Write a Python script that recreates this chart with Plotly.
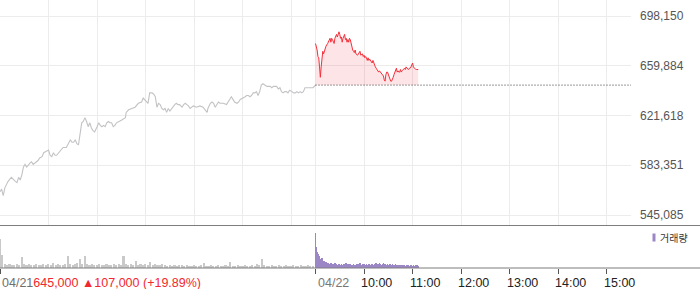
import plotly.graph_objects as go

# ---------------- data ----------------
prev_close = 645000          # 04/21 close (baseline for 04/22)
day1_label = "04/21"
day1_change_text = "645,000 ▲107,000 (+19.89%)"

# 04/21 intraday price (minutes after 09:00)
day1_min = [0, 2, 4, 6, 10, 14, 19, 21, 23, 25,
            27, 29, 31, 33, 37, 39, 41, 43, 45, 47,
            49, 52, 54, 58, 60, 62, 64, 66, 68, 70,
            74, 78, 82, 84, 87, 89, 91, 93, 95, 97,
            99, 101, 103, 105, 107, 109, 111, 113, 115, 117,
            120, 122, 124, 126, 128, 130, 132, 134, 136, 138,
            140, 142, 144, 148, 150, 155, 156, 159, 163, 167,
            171, 175, 177, 181, 183, 185, 188, 190, 192, 194,
            196, 198, 200, 202, 204, 206, 208, 210, 212, 214,
            216, 218, 220, 222, 225, 227, 229, 231, 233, 235,
            237, 239, 243, 247, 251, 253, 256, 257, 260, 262,
            264, 266, 268, 270, 272, 274, 276, 280, 282, 284,
            286, 288, 290, 293, 295, 297, 301, 303, 305, 307,
            309, 311, 313, 315, 317, 319, 321, 323, 325, 328,
            330, 332, 334, 336, 338, 340, 342, 344, 346, 348,
            350, 352, 354, 356, 358, 361, 363, 365, 367, 369,
            371, 373, 375, 377, 379, 383, 387, 390]
day1_price = [563000, 565000, 560000, 566000, 571000, 574000, 571000, 570000, 574000, 572000,
              576000, 582000, 584000, 582000, 585000, 586000, 584000, 585000, 586000, 587000,
              589000, 590000, 593000, 594000, 595000, 591000, 590000, 593000, 591000, 591000,
              594000, 597000, 597000, 599000, 603000, 601000, 601000, 603000, 600000, 599000,
              608000, 616000, 617000, 620000, 617000, 613000, 616000, 612000, 610000, 609000,
              613000, 616000, 614000, 613000, 614000, 613000, 616000, 617000, 616000, 616000,
              613000, 614000, 616000, 617000, 618000, 620000, 624000, 626000, 627000, 628000,
              631000, 632000, 635000, 632000, 631000, 639000, 639000, 638000, 636000, 628000,
              631000, 630000, 627000, 626000, 627000, 624000, 627000, 625000, 627000, 628000,
              630000, 631000, 630000, 630000, 628000, 630000, 631000, 630000, 629000, 627000,
              628000, 629000, 628000, 629000, 628000, 626000, 624000, 627000, 631000, 632000,
              631000, 628000, 630000, 632000, 631000, 631000, 631000, 630000, 632000, 634000,
              636000, 634000, 632000, 631000, 632000, 634000, 635000, 636000, 637000, 637000,
              636000, 637000, 639000, 639000, 640000, 637000, 640000, 645000, 646000, 645000,
              644000, 644000, 644000, 643000, 644000, 644000, 644000, 642000, 643000, 640000,
              639000, 640000, 640000, 639000, 641000, 640000, 639000, 639000, 640000, 639000,
              640000, 639000, 640000, 643000, 643000, 643000, 643000, 645000]

# 04/22 intraday price (minutes after 09:00)
day2_min = [0, 2, 3, 4, 5, 6, 7, 8, 9, 10,
            11, 12, 13, 15, 17, 18, 19, 20, 21, 23,
            24, 25, 26, 27, 28, 29, 30, 31, 32, 33,
            34, 35, 36, 37, 38, 39, 40, 41, 42, 43,
            44, 45, 46, 47, 48, 49, 50, 52, 53, 54,
            55, 56, 57, 58, 59, 60, 61, 62, 63, 64,
            65, 66, 67, 68, 69, 70, 71, 72, 73, 74,
            75, 76, 77, 78, 79, 80, 81, 82, 83, 84,
            85, 86, 87, 88, 89, 90, 92, 93, 94, 95,
            96, 97, 98, 99, 100, 101, 102, 103, 104, 105,
            106, 107, 108, 109, 110, 111, 112, 113, 114, 115,
            116, 117, 118, 119, 120, 121, 122, 123, 124, 125,
            126, 127]
day2_price = [677000, 672000, 667000, 666000, 659000, 651000, 659000, 668000, 671000, 669000,
              671000, 672000, 675000, 677000, 680000, 681000, 678000, 681000, 680000, 677000,
              681000, 682000, 684000, 682000, 685000, 686000, 684000, 681000, 682000, 678000,
              681000, 682000, 684000, 680000, 681000, 678000, 680000, 678000, 681000, 680000,
              677000, 675000, 672000, 671000, 670000, 672000, 669000, 668000, 669000, 669000,
              671000, 668000, 669000, 669000, 667000, 668000, 666000, 667000, 666000, 664000,
              666000, 664000, 665000, 664000, 663000, 662000, 664000, 662000, 661000, 659000,
              658000, 657000, 656000, 655000, 656000, 655000, 655000, 654000, 653000, 652000,
              649000, 648000, 653000, 655000, 655000, 653000, 649000, 648000, 648000, 649000,
              651000, 653000, 655000, 657000, 658000, 655000, 656000, 655000, 655000, 657000,
              655000, 656000, 657000, 658000, 658000, 657000, 659000, 658000, 657000, 657000,
              658000, 658000, 659000, 660000, 662000, 659000, 658000, 657000, 657000, 657000,
              657000, 657000]

# volume (x100 shares), 04/21 in 3-minute steps starting 09:00
day1_vol_min = [0, 3, 6, 9, 12, 15, 18, 21, 24, 27, 30, 33, 36, 39, 42, 45, 48, 51, 54, 57,
                60, 63, 66, 69, 72, 75, 78, 81, 84, 87, 90, 93, 96, 99, 102, 105, 108, 111, 114, 117,
                120, 123, 126, 129, 132, 135, 138, 141, 144, 147, 150, 153, 156, 159, 162, 165, 168, 171, 174, 177,
                180, 183, 186, 189, 192, 195, 198, 201, 204, 207, 210, 213, 216, 219, 222, 225, 228, 231, 234, 237,
                240, 243, 246, 249, 252, 255, 258, 261, 264, 267, 270, 273, 276, 279, 282, 285, 288, 291, 294, 297,
                300, 303, 306, 309, 312, 315, 318, 321, 324, 327, 330, 333, 336, 339, 342, 345, 348, 351, 354, 357,
                360, 363, 366, 369, 372, 375, 378, 381, 384, 387]
day1_vol = [2900, 1300, 400, 300, 400, 300, 300, 400, 300, 1100, 400, 300, 400, 300, 300, 400, 300, 300, 400, 300,
            400, 300, 500, 300, 400, 300, 300, 400, 1200, 400, 300, 400, 500, 900, 400, 1200, 400, 300, 400, 300,
            300, 400, 300, 300, 400, 300, 300, 400, 300, 400, 300, 1200, 400, 300, 400, 300, 700, 300, 400, 300,
            400, 300, 600, 300, 400, 300, 300, 400, 300, 200, 300, 200, 300, 200, 300, 300, 200, 300, 200, 200,
            300, 200, 200, 300, 500, 200, 200, 300, 200, 200, 300, 200, 200, 300, 200, 600, 200, 200, 300, 200,
            200, 300, 200, 200, 300, 200, 400, 300, 900, 300, 200, 200, 300, 200, 200, 300, 200, 200, 300, 200,
            200, 300, 200, 200, 300, 200, 200, 300, 200, 200]
# 04/22 per minute
day2_vol = [3500, 2100, 1600, 1400, 1200, 1000, 900, 800, 1000, 700,
            600, 700, 500, 600, 500, 400, 500, 400, 300, 500,
            400, 300, 400, 300, 500, 300, 400, 300, 300, 400,
            300, 300, 400, 300, 300, 400, 300, 300, 500, 300,
            400, 300, 300, 400, 300, 300, 300, 400, 300, 300,
            300, 400, 300, 300, 400, 500, 300, 300, 400, 300,
            400, 300, 300, 400, 300, 300, 400, 300, 300, 300,
            400, 300, 300, 400, 300, 500, 400, 300, 400, 500,
            400, 300, 300, 400, 500, 300, 400, 300, 300, 400,
            300, 300, 400, 300, 300, 400, 300, 300, 300, 400,
            300, 300, 200, 300, 300, 200, 300, 200, 300, 200,
            300, 200, 200, 300, 200, 300, 200, 200, 300, 200,
            200, 300, 200, 200, 300, 200, 300, 200]

price_ticks = [545085, 583351, 621618, 659884, 698150]
time_ticks = [450, 510, 570, 630, 690, 750]
time_labels = ["10:00", "11:00", "12:00", "13:00", "14:00", "15:00"]
day2_label = "04/22"
volume_label = "거래량"

# ---------------- layout helpers ----------------
W, H = 700, 289
MR, MB = 69, 21
PW, PH = W - MR, H - MB          # 631 x 268 plotting area


def py(pix):
    return (PH - pix) / PH


def pxp(pix):
    return pix / PW


FONT = "Liberation Sans, Arial, sans-serif"
GRAY_LINE = "#c3c3c6"
RED = "#f3303a"
PURPLE = "#9b86c6"

day2_x = [390 + m for m in day2_min]
day2_vol_x = [390 + i for i in range(len(day2_vol))]

fig = go.Figure()
fig.add_trace(go.Scatter(x=day1_min, y=day1_price, mode="lines",
                         line=dict(color=GRAY_LINE, width=1.1), hoverinfo="skip",
                         xaxis="x", yaxis="y"))
fig.add_trace(go.Scatter(x=day2_x, y=[prev_close] * len(day2_x), mode="lines",
                         line=dict(width=0, color="rgba(0,0,0,0)"), hoverinfo="skip",
                         xaxis="x", yaxis="y"))
fig.add_trace(go.Scatter(x=day2_x, y=day2_price, mode="lines", fill="tonexty",
                         fillcolor="rgba(240,40,55,0.12)",
                         line=dict(color=RED, width=1), hoverinfo="skip",
                         xaxis="x", yaxis="y"))
fig.add_trace(go.Scatter(x=[390, 780], y=[prev_close, prev_close], mode="lines",
                         line=dict(color="#333333", width=1, dash="1px,2px"),
                         hoverinfo="skip", xaxis="x", yaxis="y"))
fig.add_trace(go.Bar(x=day1_vol_min, y=day1_vol, width=2.0, marker=dict(color="#c9c9c9", line=dict(width=0)),
                     hoverinfo="skip", xaxis="x2", yaxis="y2"))
fig.add_trace(go.Bar(x=day2_vol_x, y=day2_vol, width=0.8, marker=dict(color=PURPLE, line=dict(width=0)),
                     hoverinfo="skip", xaxis="x2", yaxis="y2"))

grid_x = [0, 60, 120, 180, 240, 300, 360, 390, 450, 510, 570, 630, 690, 750]

fig.update_layout(
    width=W, height=H, margin=dict(l=0, r=MR, t=0, b=MB, pad=0),
    paper_bgcolor="white", plot_bgcolor="white", showlegend=False,
    font=dict(family=FONT, size=12, color="#555"),
    bargap=0,
    xaxis=dict(domain=[0, 1], range=[0, 780], anchor="y", tickmode="array", tickvals=grid_x,
               showticklabels=False, ticks="", showgrid=True, gridcolor="#ececec", gridwidth=1,
               zeroline=False, showline=False, fixedrange=True),
    yaxis=dict(domain=[py(225), 1], range=[537394, 710457], side="right", tickmode="array",
               tickvals=price_ticks, ticktext=[f"{v:,}" for v in price_ticks],
               ticks="", ticklabelstandoff=8, tickfont=dict(size=12, color="#555"),
               showgrid=True, gridcolor="#ececec", zeroline=False, showline=False,
               automargin=False, fixedrange=True),
    xaxis2=dict(domain=[0, 1], range=[0, 780], anchor="y2", tickmode="array",
                tickvals=[0, 390] + time_ticks, showticklabels=False, ticks="outside",
                ticklen=5, tickcolor="#555", tickwidth=1, showgrid=False, zeroline=False,
                showline=False, fixedrange=True),
    yaxis2=dict(domain=[0, py(226)], range=[0, 3500 * 42 / 35], showgrid=False,
                showticklabels=False, zeroline=False, showline=False, fixedrange=True),
)

# separators spanning full width
fig.add_shape(type="line", xref="paper", yref="paper", x0=0, x1=W / PW, y0=py(225.5), y1=py(225.5),
              line=dict(color="#7d7d7d", width=1))
fig.add_shape(type="line", xref="paper", yref="paper", x0=0, x1=W / PW, y0=py(268), y1=py(268),
              line=dict(color="#7d7d7d", width=1))
# volume legend marker
fig.add_shape(type="rect", xref="paper", yref="paper", x0=pxp(652.5), x1=pxp(655.5),
              y0=py(241.5), y1=py(233.5), line=dict(width=0), fillcolor=PURPLE)

annos = [
    dict(x=0, y=py(283), xref="paper", yref="paper", xanchor="left", yanchor="middle",
         text=f"<span style='color:#6e6e6e'>{day1_label}</span><span style='color:#f2282f'>{day1_change_text}</span>",
         showarrow=False, font=dict(size=12.5)),
    dict(x=390, y=py(283), xref="x2", yref="paper", xanchor="left", yanchor="middle",
         text=day2_label, showarrow=False, font=dict(size=12.5, color="#777")),
    dict(x=pxp(658), y=py(237.5), xref="paper", yref="paper", xanchor="left", yanchor="middle",
         text=volume_label, showarrow=False,
         font=dict(size=10, color="#333", family="Noto Sans CJK KR")),
]
for t, lab in zip(time_ticks, time_labels):
    annos.append(dict(x=t, y=py(283), xref="x2", yref="paper", xanchor="left", yanchor="middle",
                      xshift=-5, text=lab, showarrow=False, font=dict(size=12.5, color="#222")))
fig.update_layout(annotations=annos)

fig.write_html("out.html")
